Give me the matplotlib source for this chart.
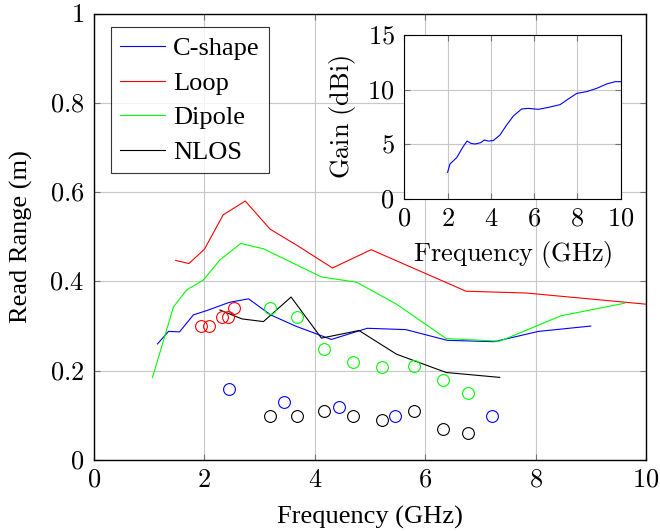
import matplotlib
matplotlib.use('Agg')
import matplotlib.pyplot as plt
import numpy as np

plt.rcParams['font.family'] = ['Liberation Serif', 'DejaVu Serif']
plt.rcParams['mathtext.fontset'] = 'cm'

# read range curves (GHz, m)
cshape_f = [1.15, 1.35, 1.55, 1.8, 2.05, 2.45, 2.8, 3.2, 3.65, 4.3, 4.95, 5.65, 6.4, 7.25, 8.05, 9.0]
cshape_r = [0.26, 0.288, 0.287, 0.325, 0.335, 0.353, 0.361, 0.325, 0.3, 0.27, 0.295, 0.292, 0.268, 0.265, 0.288, 0.3]
loop_f = [1.48, 1.72, 2.0, 2.34, 2.74, 3.19, 3.7, 4.32, 5.02, 6.74, 7.83, 10.0]
loop_r = [0.447, 0.44, 0.472, 0.549, 0.58, 0.517, 0.479, 0.43, 0.471, 0.378, 0.374, 0.349]
dipole_f = [1.06, 1.44, 1.68, 1.98, 2.28, 2.66, 3.07, 4.12, 4.76, 5.48, 6.38, 7.35, 8.46, 9.61]
dipole_r = [0.185, 0.343, 0.381, 0.403, 0.448, 0.485, 0.473, 0.41, 0.398, 0.349, 0.272, 0.266, 0.323, 0.351]
nlos_f = [2.28, 2.68, 3.07, 3.57, 4.12, 4.8, 5.48, 6.38, 7.35]
nlos_r = [0.336, 0.316, 0.31, 0.365, 0.273, 0.29, 0.237, 0.196, 0.185]

# measured points
meas_red_f = [1.93, 2.09, 2.31, 2.42, 2.54]
meas_red_r = [0.30, 0.30, 0.321, 0.321, 0.34]
meas_green_f = [3.19, 3.67, 4.17, 4.69, 5.21, 5.79, 6.33, 6.77]
meas_green_r = [0.34, 0.321, 0.249, 0.219, 0.209, 0.21, 0.179, 0.149]
meas_blue_f = [2.45, 3.44, 4.43, 5.46, 7.21]
meas_blue_r = [0.159, 0.129, 0.119, 0.099, 0.099]
meas_black_f = [3.19, 3.68, 4.17, 4.69, 5.21, 5.79, 6.33, 6.77]
meas_black_r = [0.099, 0.099, 0.11, 0.099, 0.09, 0.11, 0.07, 0.06]

# gain (inset)
gain_f = [2.0, 2.11, 2.42, 2.72, 2.9, 3.08, 3.27, 3.53, 3.7, 3.88, 4.11, 4.42, 4.73, 5.04,
          5.42, 5.73, 6.19, 6.66, 7.2, 7.58, 7.97, 8.43, 8.89, 9.35, 9.74, 10.0]
gain_db = [2.44, 3.2, 3.78, 4.79, 5.3, 5.09, 5.03, 5.15, 5.4, 5.3, 5.34, 5.85, 6.77, 7.59,
           8.23, 8.29, 8.2, 8.38, 8.63, 9.15, 9.66, 9.82, 10.12, 10.52, 10.73, 10.73]

BLUE, RED, GREEN, BLACK = '#0000ff', '#ff0000', '#00ff00', '#000000'
lw = 0.8
fs = 19


def cm_fmt(v, pos=None):
    return r'$\mathrm{%g}$' % v


def cm_text(s):
    return r'$\mathrm{%s}$' % s.replace(' ', r'\ ')


fig = plt.figure(figsize=(6.6, 5.31), dpi=100)
ax = fig.add_axes([94 / 660, 1 - 460 / 531, 552 / 660, 446.5 / 531])

ax.plot(cshape_f, cshape_r, color=BLUE, lw=lw, label='C-shape')
ax.plot(loop_f, loop_r, color=RED, lw=lw, label='Loop')
ax.plot(dipole_f, dipole_r, color=GREEN, lw=lw, label='Dipole')
ax.plot(nlos_f, nlos_r, color=BLACK, lw=lw, label='NLOS')

mk = dict(ls='none', marker='o', ms=8.5, mfc='none', mew=0.8)
ax.plot(meas_red_f, meas_red_r, mec=RED, **mk)
ax.plot(meas_green_f, meas_green_r, mec=GREEN, **mk)
ax.plot(meas_blue_f, meas_blue_r, mec=BLUE, **mk)
ax.plot(meas_black_f, meas_black_r, mec=BLACK, **mk)

ax.set_xlim(0, 10)
ax.set_ylim(0, 1)
ax.set_xticks([0, 2, 4, 6, 8, 10])
ax.set_yticks([0, 0.2, 0.4, 0.6, 0.8, 1])
ax.xaxis.set_major_formatter(plt.FuncFormatter(cm_fmt))
ax.yaxis.set_major_formatter(plt.FuncFormatter(cm_fmt))
ax.tick_params(direction='in', top=True, right=True, labelsize=fs, color='0.45', length=4, pad=7)
ax.grid(True, color='#c8c8c8', lw=0.8)
ax.set_axisbelow(True)
ax.set_xlabel('Frequency (GHz)', fontsize=fs, labelpad=10)
ax.set_ylabel('Read Range (m)', fontsize=fs, labelpad=12)
for s in ax.spines.values():
    s.set_linewidth(1.0)

leg = ax.legend(loc='upper left', bbox_to_anchor=(17 / 552, 1 - 14 / 446.5),
                fontsize=fs, frameon=True, fancybox=False, edgecolor='black',
                handlelength=1.7, handletextpad=0.3, borderpad=0.35, labelspacing=0.42,
                borderaxespad=0)
leg.get_frame().set_linewidth(0.8)

# inset
ins = fig.add_axes([404.3 / 660, 1 - 199 / 531, 216.4 / 660, 164 / 531])
ins.plot(gain_f, gain_db, color=BLUE, lw=lw)
ins.set_xlim(0, 10)
ins.set_ylim(0, 15)
ins.set_xticks([0, 2, 4, 6, 8, 10])
ins.set_yticks([0, 5, 10, 15])
ins.xaxis.set_major_formatter(plt.FuncFormatter(cm_fmt))
ins.yaxis.set_major_formatter(plt.FuncFormatter(cm_fmt))
ins.tick_params(direction='in', top=True, right=True, labelsize=fs, color='0.45', length=4, pad=7)
ins.grid(True, color='#c8c8c8', lw=0.8)
ins.set_axisbelow(True)
ins.set_xlabel(cm_text('Frequency (GHz)'), fontsize=fs, labelpad=6)
ins.set_ylabel(cm_text('Gain (dBi)'), fontsize=fs, labelpad=7)

fig.savefig('out.png', dpi=100)
